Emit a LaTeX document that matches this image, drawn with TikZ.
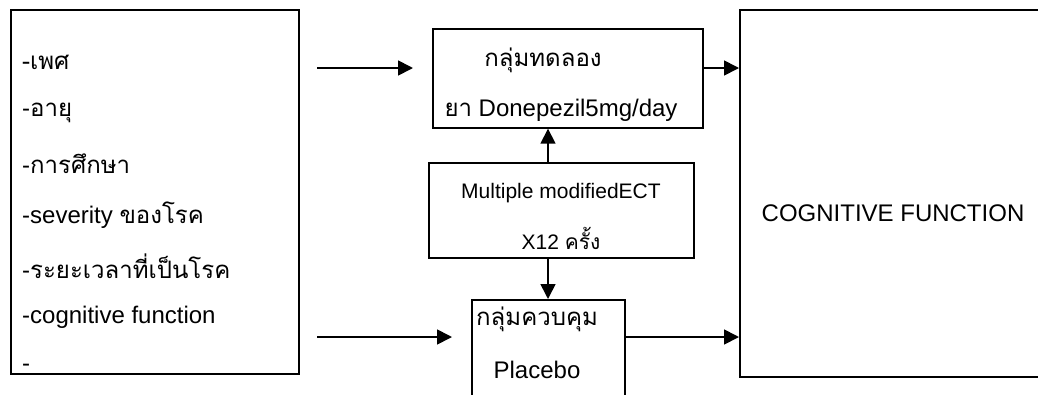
\documentclass[tikz,border=0pt]{standalone}
\usepackage{fontspec}
\setmainfont{Liberation Sans}
\newfontfamily\thai[Script=Thai]{Loma}
\usetikzlibrary{arrows.meta}
\begin{document}
\begin{tikzpicture}[x=1pt,y=-1pt,
  box/.style={draw, line width=1.7pt, inner sep=0pt, anchor=north west},
  txt/.style={inner sep=0pt, font=\fontsize{24}{28}\selectfont},
  stxt/.style={inner sep=0pt, font=\fontsize{21}{25}\selectfont},
  arr/.style={line width=1.7pt, -{Triangle[length=15pt,width=15pt]}}]
\useasboundingbox (0,0) rectangle (1038,394);
\clip (0,0) rectangle (1038,394);
% boxes
\node[box, minimum width=288pt, minimum height=364pt] (left) at (10,9) {};
\node[box, minimum width=270pt, minimum height=99pt] (top) at (432,28) {};
\node[box, minimum width=265pt, minimum height=95pt] (ect) at (428,162) {};
\node[box, minimum width=153pt, minimum height=120pt] (pl) at (471,299) {};
\node[box, minimum width=330pt, minimum height=367pt] (cf) at (739,9) {};
% left texts
\node[txt, anchor=west] (l1) at (22,62) {\thai -เพศ};
\node[txt, anchor=west] (l2) at (22,113) {-{\thai อายุ}};
\node[txt, anchor=west] (l3) at (22,164) {-{\thai การศึกษา}};
\node[txt, anchor=west] (l4) at (22,215) {-severity {\thai ของโรค}};
\node[txt, anchor=west] (l5) at (22,266) {-{\thai ระยะเวลาที่เป็นโรค}};
\node[txt, anchor=west] (l6) at (22,317) {-cognitive function};
\node[txt, anchor=west] (l7) at (22,368) {-};
% box texts
\node[txt] (t1) at (543,60) {\thai กลุ่มทดลอง};
\node[txt] (t2) at (561,110) {{\thai ยา} Donepezil5mg/day};
\node[stxt] (e1) at (561,193) {Multiple modifiedECT};
\node[stxt] (e2) at (561,238) {X12 {\thai ครั้ง}};
\node[txt, anchor=west] (p1) at (476,319) {\thai กลุ่มควบคุม};
\node[txt] (p2) at (537,370) {Placebo};
\node[txt] (c1) at (893,213) {COGNITIVE FUNCTION};
% connectors
\coordinate (s1) at (317,68);
\coordinate (s2) at (317,337);
\coordinate (v) at (548,0);
\draw[arr, shorten >=19pt] (s1) -- (s1 -| top.west);
\draw[arr, shorten >=19pt] (s2) -- (s2 -| pl.west);
\draw[arr] (top.east |- s1) -- (cf.west |- s1);
\draw[arr] (pl.east |- s2) -- (cf.west |- s2);
\draw[arr] (ect.north -| v) -- (top.south -| v);
\draw[arr] (ect.south -| v) -- (pl.north -| v);
\end{tikzpicture}
\end{document}
